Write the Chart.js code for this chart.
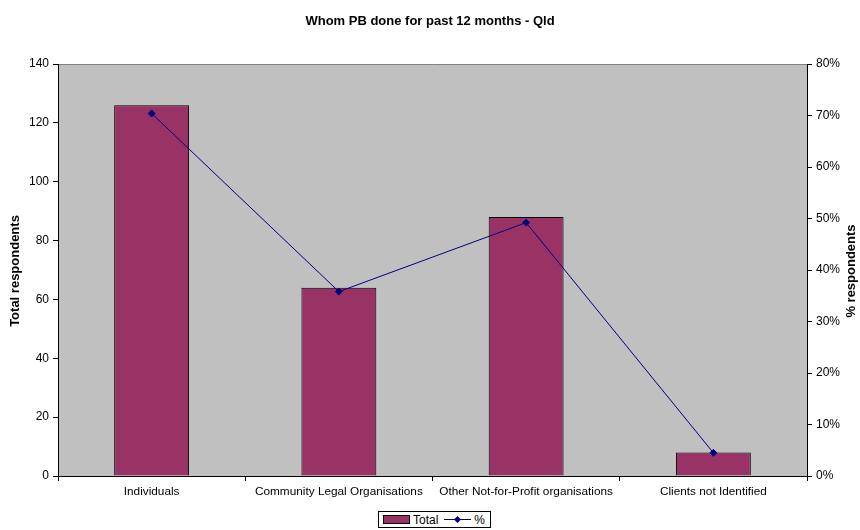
<!DOCTYPE html>
<html>
<head>
<meta charset="utf-8">
<script src="https://cdn.jsdelivr.net/npm/chart.js@4/dist/chart.umd.min.js"></script>
<style>
  html, body { margin: 0; padding: 0; background: #fff; }
  #wrap { position: relative; width: 860px; height: 530px; }
  #legend {
    position: absolute; left: 378px; top: 511px; height: 17px;
    border: 1px solid #000; background: #fff;
    font: 12px "Liberation Sans", Arial, sans-serif; color: #000;
    display: flex; align-items: center; padding: 0 5px 0 4px; box-sizing: border-box;
  }
  .sw { display: inline-block; width: 25px; height: 7px; background: #993366; border: 1px solid #000; margin-right: 3px; }
  .ln { position: relative; display: inline-block; width: 27px; height: 9px; margin: 0 3px 0 6px; }
  .ln::before { content: ''; position: absolute; left: 0; right: 0; top: 4px; height: 1px; background: #000080; }
  .ln::after { content: ''; position: absolute; left: 11px; top: 2px; width: 5px; height: 5px; background: #000080; transform: rotate(45deg); }
</style>
</head>
<body>
<div id="wrap">
  <canvas id="chart" width="860" height="530"></canvas>
  <div id="legend"><span class="sw"></span>Total<span class="ln"></span>%</div>
</div>
<script>
const categories = ['Individuals', 'Community Legal Organisations', 'Other Not-for-Profit organisations', 'Clients not Identified'];
const totalRespondents = [126, 64, 88, 8];
const pctRespondents = [70.4, 35.8, 49.2, 4.5];

const chartTitle = 'Whom PB done for past 12 months - Qld';
const leftAxisTitle = 'Total respondents';
const rightAxisTitle = '% respondents';

const FONT = '"Liberation Sans", Arial, sans-serif';

// grey plot background + titles drawn on the canvas
const decorPlugin = {
  id: 'decor',
  beforeDraw(chart) {
    const { ctx, chartArea: a } = chart;
    ctx.save();
    ctx.fillStyle = '#C0C0C0';
    ctx.fillRect(a.left, a.top, a.right - a.left, a.bottom - a.top);
    ctx.strokeStyle = '#808080';
    ctx.lineWidth = 1;
    ctx.beginPath();
    ctx.moveTo(a.left, a.top + 0.5);
    ctx.lineTo(a.right, a.top + 0.5);
    ctx.stroke();
    ctx.restore();
  },
  afterDraw(chart) {
    const { ctx, chartArea: a } = chart;
    const midY = (a.top + a.bottom) / 2 + 1;
    ctx.save();
    ctx.fillStyle = '#000';
    ctx.font = 'bold 13px ' + FONT;
    ctx.textAlign = 'center';
    ctx.textBaseline = 'middle';
    ctx.fillText(chartTitle, 430, 21);

    ctx.translate(15, midY);
    ctx.rotate(-Math.PI / 2);
    ctx.fillText(leftAxisTitle, 0, 0);
    ctx.restore();

    ctx.save();
    ctx.fillStyle = '#000';
    ctx.font = 'bold 13px ' + FONT;
    ctx.textAlign = 'center';
    ctx.textBaseline = 'middle';
    ctx.translate(851, midY);
    ctx.rotate(-Math.PI / 2);
    ctx.fillText(rightAxisTitle, 0, 0);
    ctx.restore();
  }
};

new Chart(document.getElementById('chart'), {
  data: {
    labels: categories,
    datasets: [
      {
        type: 'line',
        label: '%',
        data: pctRespondents,
        yAxisID: 'yRight',
        borderColor: '#000080',
        backgroundColor: '#000080',
        borderWidth: 1,
        pointStyle: 'rectRot',
        pointRadius: 3.5,
        pointHoverRadius: 3.5,
        tension: 0,
        order: 0
      },
      {
        type: 'bar',
        label: 'Total',
        data: totalRespondents,
        yAxisID: 'y',
        backgroundColor: '#993366',
        borderColor: '#000',
        borderWidth: 1,
        categoryPercentage: 1,
        barPercentage: 0.4,
        order: 1
      }
    ]
  },
  options: {
    responsive: false,
    animation: false,
    devicePixelRatio: 1,
    layout: { padding: { top: 64, bottom: 24, left: 0, right: 0 } },
    plugins: {
      legend: { display: false },
      title: { display: false },
      tooltip: { enabled: false }
    },
    scales: {
      x: {
        offset: true,
        grid: { display: true, drawOnChartArea: false, offset: true, color: '#000', tickLength: 5 },
        border: { color: '#000', width: 1 },
        ticks: { color: '#000', font: { family: FONT, size: 11.8 }, padding: 4, maxRotation: 0, autoSkip: false },
        afterFit(scale) { scale.height = 30; }
      },
      y: {
        position: 'left',
        min: 0,
        max: 140,
        grid: { display: true, drawOnChartArea: false, color: '#000', tickLength: 5 },
        border: { color: '#000', width: 1 },
        ticks: { stepSize: 20, color: '#000', font: { family: FONT, size: 12 }, padding: 4 },
        afterFit(scale) { scale.width = 58; }
      },
      yRight: {
        position: 'right',
        min: 0,
        max: 80,
        grid: { display: true, drawOnChartArea: false, color: '#000', tickLength: 5 },
        border: { color: '#000', width: 1 },
        ticks: { stepSize: 10, color: '#000', font: { family: FONT, size: 12 }, padding: 4, callback: v => v + '%' },
        afterFit(scale) { scale.width = 53; }
      }
    }
  },
  plugins: [decorPlugin]
});
</script>
</body>
</html>
